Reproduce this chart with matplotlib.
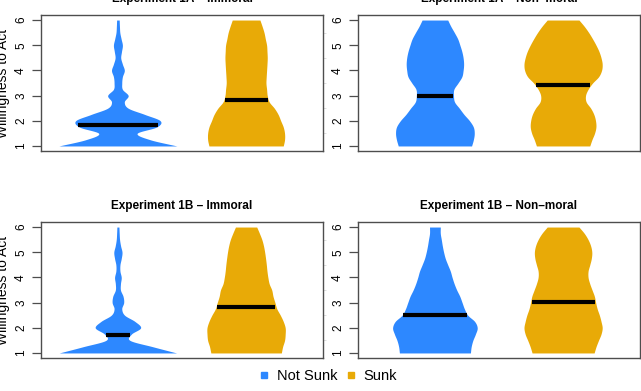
import numpy as np
import matplotlib
matplotlib.use("Agg")
import matplotlib.pyplot as plt
from matplotlib.lines import Line2D

plt.rcParams['font.family'] = ['Liberation Sans', 'DejaVu Sans']

# ---------------- data ----------------
y_levels = [1.0, 1.25, 1.5, 1.75, 2.0, 2.25, 2.5, 2.75, 3.0, 3.25, 3.5,
            3.75, 4.0, 4.25, 4.5, 4.75, 5.0, 5.25, 5.5, 5.75, 6.0]

groups = ["Not Sunk", "Sunk"]
panel_titles = ["Experiment 1A \u2013 Immoral", "Experiment 1A \u2013 Non\u2013moral",
                "Experiment 1B \u2013 Immoral", "Experiment 1B \u2013 Non\u2013moral"]

# violin half-widths (density profile) read at y_levels
exp1a_immoral_notsunk = [0.46, 0.25, 0.15, 0.30, 0.33, 0.21, 0.08, 0.05, 0.08, 0.035, 0.03,
                         0.035, 0.05, 0.035, 0.022, 0.028, 0.035, 0.025, 0.015, 0.012, 0.01]
exp1a_immoral_sunk = [0.29, 0.30, 0.30, 0.29, 0.27, 0.25, 0.22, 0.18, 0.165, 0.16, 0.155,
                      0.157, 0.16, 0.163, 0.165, 0.163, 0.16, 0.15, 0.14, 0.125, 0.108]
exp1a_nonmoral_notsunk = [0.286, 0.30, 0.307, 0.30, 0.27, 0.227, 0.19, 0.153, 0.145, 0.148, 0.18,
                          0.21, 0.22, 0.224, 0.22, 0.21, 0.195, 0.178, 0.152, 0.124, 0.10]
exp1a_nonmoral_sunk = [0.208, 0.225, 0.245, 0.256, 0.253, 0.24, 0.215, 0.18, 0.175, 0.195, 0.23,
                       0.277, 0.30, 0.305, 0.296, 0.28, 0.257, 0.23, 0.20, 0.165, 0.124]
exp1b_immoral_notsunk = [0.458, 0.27, 0.094, 0.105, 0.177, 0.133, 0.052, 0.03, 0.045, 0.04, 0.02,
                         0.02, 0.026, 0.016, 0.016, 0.026, 0.032, 0.021, 0.013, 0.01, 0.008]
exp1b_immoral_sunk = [0.275, 0.285, 0.30, 0.305, 0.305, 0.29, 0.267, 0.24, 0.225, 0.21, 0.20,
                      0.18, 0.17, 0.163, 0.158, 0.152, 0.145, 0.136, 0.123, 0.104, 0.083]
exp1b_nonmoral_notsunk = [0.277, 0.283, 0.296, 0.316, 0.33, 0.31, 0.256, 0.23, 0.212, 0.194, 0.17,
                          0.15, 0.134, 0.12, 0.10, 0.081, 0.068, 0.058, 0.05, 0.042, 0.042]
exp1b_nonmoral_sunk = [0.242, 0.257, 0.276, 0.296, 0.305, 0.296, 0.283, 0.266, 0.254, 0.244, 0.226,
                       0.208, 0.195, 0.195, 0.208, 0.22, 0.224, 0.215, 0.195, 0.165, 0.124]

means_notsunk = [1.82, 2.98, 1.70, 2.49]
means_sunk = [2.83, 3.42, 2.83, 3.02]

yticks = [1, 2, 3, 4, 5, 6]
ylabel = "Willingness to Act"

colors = ["#2D88FF", "#E8AA07"]

profiles = [
    (exp1a_immoral_notsunk, exp1a_immoral_sunk),
    (exp1a_nonmoral_notsunk, exp1a_nonmoral_sunk),
    (exp1b_immoral_notsunk, exp1b_immoral_sunk),
    (exp1b_nonmoral_notsunk, exp1b_nonmoral_sunk),
]


def smooth(y, w, n=500):
    y = np.asarray(y, float)
    w = np.asarray(w, float)
    m = np.gradient(w, y)
    yf = np.linspace(y[0], y[-1], n)
    idx = np.clip(np.searchsorted(y, yf, side='right') - 1, 0, len(y) - 2)
    h = y[idx + 1] - y[idx]
    t = (yf - y[idx]) / h
    h00 = 2 * t**3 - 3 * t**2 + 1
    h10 = t**3 - 2 * t**2 + t
    h01 = -2 * t**3 + 3 * t**2
    h11 = t**3 - t**2
    wf = h00 * w[idx] + h10 * h * m[idx] + h01 * w[idx + 1] + h11 * h * m[idx + 1]
    return yf, np.clip(wf, 0.004, None)


W, H = 641, 391
fig = plt.figure(figsize=(W / 100, H / 100), dpi=100)

lefts = [41, 358, 41, 358]
tops = [15, 15, 222, 222]
aw, ah = 282, 136

frame_col = "#4d4d4d"
for i in range(4):
    ax = fig.add_axes([lefts[i] / W, 1 - (tops[i] + ah) / H, aw / W, ah / H])
    for j, prof in enumerate(profiles[i]):
        pos = j + 1
        yf, wf = smooth(y_levels, prof)
        ax.fill_betweenx(yf, pos - wf, pos + wf, color=colors[j], lw=0, zorder=2)
        mean = (means_notsunk if j == 0 else means_sunk)[i]
        hw = np.interp(mean, yf, wf) * 0.97
        ax.plot([pos - hw, pos + hw], [mean, mean], color="black", lw=3,
                solid_capstyle="butt", zorder=3)
    ax.set_xlim(0.4, 2.6)
    ax.set_ylim(0.8, 6.2)
    ax.set_xticks([])
    ax.set_yticks(yticks)
    ax.set_yticklabels([str(t) for t in yticks])
    ax.tick_params(axis='y', which='major', length=6.5, width=0.9, pad=3.5,
                   labelsize=8.5, labelrotation=90, color=frame_col)
    for lab in ax.get_yticklabels():
        lab.set_verticalalignment('center')
    ax.set_yticks(np.arange(1.5, 6.01, 0.5), minor=True)
    ax.tick_params(axis='y', which='minor', left=False, right=True, length=2,
                   width=0.6, color="#d9d9d9", direction='out')
    for s in ax.spines.values():
        s.set_color(frame_col)
        s.set_linewidth(1.0)
    ax.set_title(panel_titles[i], fontsize=8.5, fontweight='bold', pad=9.5)

for yc in [(15 + 15 + ah) / 2, (222 + 222 + ah) / 2]:
    fig.text(3 / W, 1 - yc / H, ylabel, rotation=90, ha='center', va='center', fontsize=10)

handles = [Line2D([], [], marker='s', linestyle='none', markersize=5,
                  markerfacecolor=c, markeredgecolor=c) for c in colors]
fig.legend(handles, groups, loc='center', bbox_to_anchor=(327 / W, 1 - 376.5 / H),
           ncol=2, frameon=False, fontsize=10.5, handletextpad=0.35, columnspacing=0.45,
           handlelength=1.0, borderaxespad=0)

fig.savefig("out.png", dpi=100)
